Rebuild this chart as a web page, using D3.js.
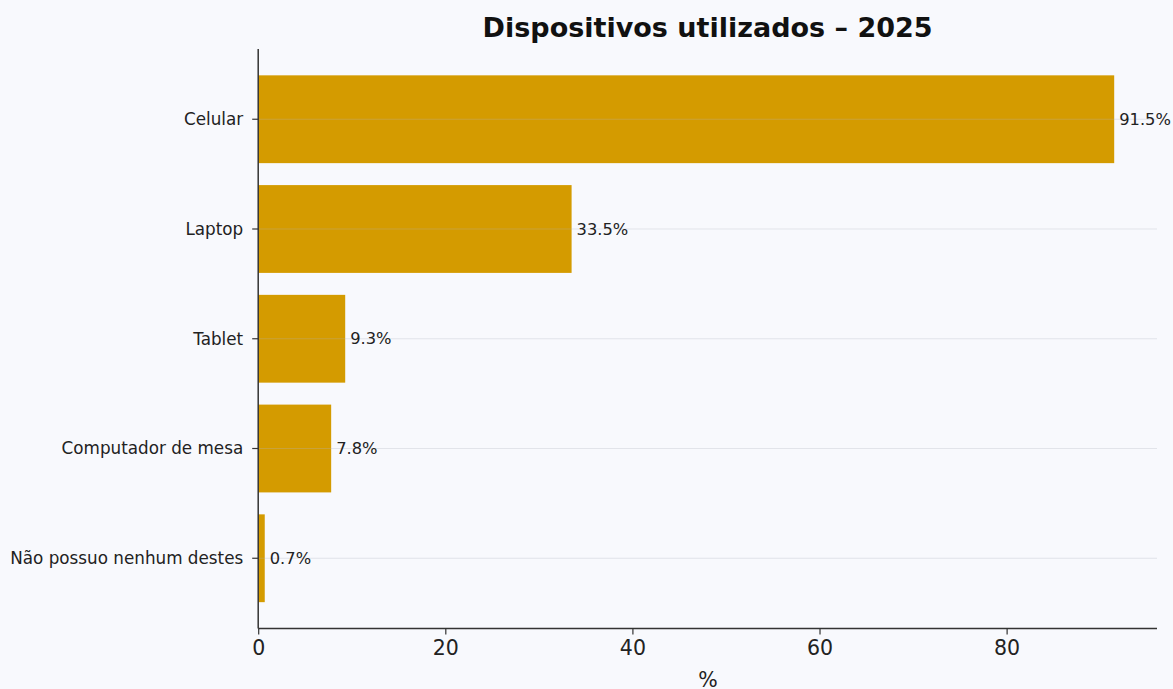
<!DOCTYPE html>
<html><head><meta charset="utf-8">
<script src="https://cdn.jsdelivr.net/npm/d3@7"></script>
<style>
html,body{margin:0;padding:0;background:#F8F9FD;}
text{font-family:"DejaVu Sans",sans-serif;}
</style></head>
<body>
<svg id="chart" width="1173" height="689"></svg>
<script>
const categories = ["Celular","Laptop","Tablet","Computador de mesa","Não possuo nenhum destes"];
const values = [91.5, 33.5, 9.3, 7.8, 0.7];
const xTicks = [0, 20, 40, 60, 80];
const title = "Dispositivos utilizados – 2025";
const xLabel = "%";

(function(){
const svg = d3.select("#chart");
const W = 1173, H = 689;
svg.append("rect").attr("width",W).attr("height",H).attr("fill","#F8F9FD");
const mLeft = 258.2, mRight = 1157, mTop = 49, mBottom = 628.5;
const maxV = d3.max(values)*1.05;
const x = d3.scaleLinear().domain([0, maxV]).range([mLeft, mRight]);
const n = categories.length;
const pad = 0.05*(n-1+0.8);
const y = d3.scaleLinear().domain([-0.4-pad, n-1+0.4+pad]).range([mTop, mBottom]);
const bh = y(0.8)-y(0);

const g = svg.append("g");
g.selectAll("rect.bar").data(values).enter().append("rect")
  .attr("class","bar")
  .attr("x", x(0))
  .attr("y",(d,i)=>y(i)-bh/2)
  .attr("width",d=>x(d)-x(0))
  .attr("height",bh)
  .attr("fill","#D49B00");
g.selectAll("line.grid").data(categories).enter().append("line")
  .attr("x1",x(0)).attr("x2",mRight)
  .attr("y1",(d,i)=>y(i)).attr("y2",(d,i)=>y(i))
  .attr("stroke","#b0b4c0").attr("stroke-opacity",0.3).attr("stroke-width",1);
g.selectAll("text.val").data(values).enter().append("text")
  .attr("x",d=>x(d)+5).attr("y",(d,i)=>y(i))
  .attr("dy","0.35em").attr("font-size",16.3).attr("fill","#222")
  .text(d=>d.toFixed(1)+"%");

const xAxis = d3.axisBottom(x).tickValues(xTicks).tickSize(6).tickPadding(6).tickSizeOuter(0).tickFormat(d3.format("d"));
const xa = svg.append("g").attr("transform",`translate(0,${mBottom})`).call(xAxis);
xa.select(".domain").attr("stroke","#333").attr("stroke-width",1.5).attr("d",`M${mLeft},0H${mRight}`);
xa.selectAll(".tick line").attr("stroke","#333").attr("stroke-width",1.2);
xa.selectAll(".tick text").attr("font-size",20.5).attr("fill","#222").attr("dy","0.71em").attr("font-family","DejaVu Sans");

const ya = svg.append("g").attr("transform",`translate(${mLeft},0)`);
ya.append("line").attr("x1",0).attr("x2",0).attr("y1",mTop).attr("y2",mBottom).attr("stroke","#333").attr("stroke-width",1.5);
categories.forEach((c,i)=>{
  ya.append("line").attr("x1",-6).attr("x2",0).attr("y1",y(i)).attr("y2",y(i)).attr("stroke","#333").attr("stroke-width",1.2);
  ya.append("text").attr("x",-15).attr("y",y(i)).attr("dy","0.35em").attr("text-anchor","end")
    .attr("font-size",16.8).attr("fill","#222").text(c);
});

svg.append("text").attr("x",(mLeft+mRight)/2).attr("y",37).attr("text-anchor","middle")
  .attr("font-size",27).attr("font-weight","bold").attr("fill","#111").text(title);
svg.append("text").attr("x",708).attr("y",687).attr("text-anchor","middle")
  .attr("font-size",20.5).attr("fill","#222").text(xLabel);
})();
</script>
</body></html>
